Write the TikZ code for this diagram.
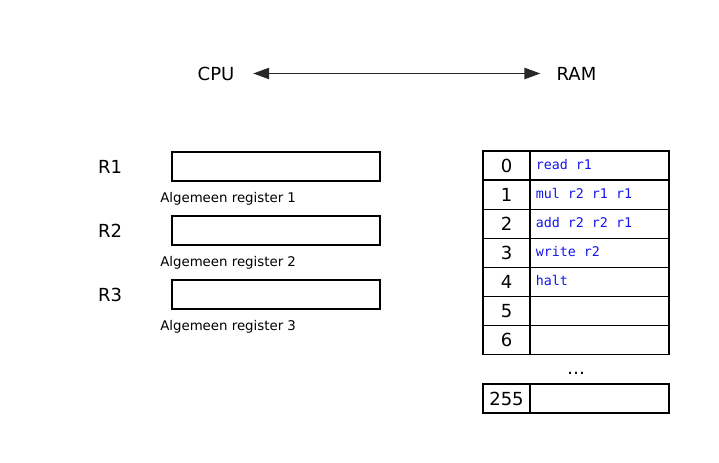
\documentclass[tikz,border=0pt]{standalone}
\usepackage{fontspec}
\setmainfont{DejaVu Sans}
\newfontfamily\codefont{DejaVu Sans Mono}
\usetikzlibrary{arrows.meta}
\definecolor{codeblue}{RGB}{20,20,235}
\definecolor{arrowgray}{RGB}{40,40,40}
\begin{document}
\begin{tikzpicture}[x=0.75pt,y=-0.75pt,
  bigtext/.style={inner sep=0pt,font=\fontsize{13.5pt}{16pt}\selectfont},
  smalltext/.style={inner sep=0pt,anchor=base west,font=\fontsize{10pt}{12pt}\selectfont},
  regbox/.style={draw,line width=0.8pt,minimum width=208*0.75pt,minimum height=29*0.75pt,inner sep=0pt},
  idxcell/.style={draw,line width=1pt,minimum width=47*0.75pt,minimum height=29.1*0.75pt,inner sep=0pt,font=\fontsize{13.5pt}{16pt}\selectfont},
  codecell/.style={draw,line width=1pt,minimum width=139*0.75pt,minimum height=29.1*0.75pt,inner sep=0pt},
  codetext/.style={inner sep=0pt,anchor=base west,text=codeblue,font=\codefont\fontsize{10pt}{12pt}\selectfont},
  busarrow/.style={{Triangle[length=12pt,width=8.5pt]}-{Triangle[length=12pt,width=8.5pt]},line width=1pt,draw=arrowgray,fill=black}
]
\useasboundingbox (0,0) rectangle (719,463);

% CPU <-> RAM
\node[bigtext] (cpu) at (216,73.5) {CPU};
\node[bigtext] (ram) at (576.5,73.5) {RAM};
\draw[busarrow,shorten <=14pt,shorten >=12pt] (cpu.east) -- (ram.west);

% registers
\foreach \i/\y in {1/152,2/216,3/280}{
  \node[bigtext] (rl\i) at (110,\y+14.5) {R\i};
  \node[regbox] (reg\i) at (276,\y+14.5) {};
  \node[smalltext] (rd\i) at (160,\y+51) {Algemeen register \i};
}

% RAM table
\foreach \i/\code in {0/read r1,1/mul r2 r1 r1,2/add r2 r2 r1,3/write r2,4/halt,5/,6/}{
  \pgfmathsetmacro{\yc}{151+29.1*\i+14.55}
  \node[idxcell] (idx\i) at (506.5,\yc) {\i};
  \node[codecell] (cell\i) at (599.5,\yc) {};
  \node[codetext] (code\i) at (535.5,\yc+4) {\code};
}
\node[bigtext,anchor=base] (dots) at (576,375) {…};
\node[idxcell] (idx255) at (506.5,398.5) {255};
\node[codecell] (cell255) at (599.5,398.5) {};
\end{tikzpicture}
\end{document}
